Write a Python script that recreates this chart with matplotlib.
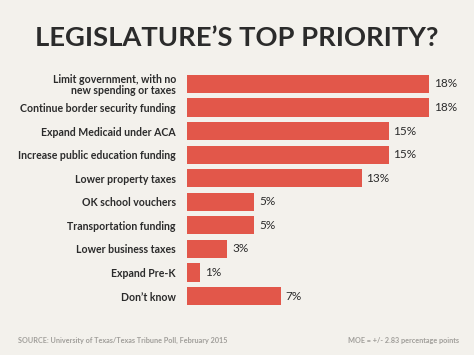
import matplotlib
matplotlib.use("Agg")
import matplotlib.pyplot as plt

# --- Dados ---
categorias = [
    "Limit government, with no\nnew spending or taxes",
    "Continue border security funding",
    "Expand Medicaid under ACA",
    "Increase public education funding",
    "Lower property taxes",
    "OK school vouchers",
    "Transportation funding",
    "Lower business taxes",
    "Expand Pre-K",
    "Don\u2019t know",
]
valores = [18, 18, 15, 15, 13, 5, 5, 3, 1, 7]
rotulos = ["18%", "18%", "15%", "15%", "13%", "5%", "5%", "3%", "1%", "7%"]

fundo = "#f3f1ec"
cor_barra = "#e2574a"
cor_texto = "#2b2b2b"

plt.rcParams["font.family"] = ["Lato", "DejaVu Sans"]

fig = plt.figure(figsize=(4.74, 3.55), dpi=100, facecolor=fundo)
ax = fig.add_axes([187 / 474, 1 - 307.8 / 355, (474 - 187) / 474, (307.8 - 72.2) / 355])
ax.set_facecolor(fundo)

pos = list(range(len(categorias)))
ax.barh(pos, valores, height=0.77, color=cor_barra)
ax.set_xlim(0, (474 - 187) / 13.45)
ax.set_ylim(len(categorias) - 0.5, -0.5)

for y, v, r in zip(pos, valores, rotulos):
    ax.text(v + 0.35, y, r, va="center", ha="left", fontsize=8.5, color=cor_texto)

ax.set_yticks(pos)
ax.set_yticklabels(categorias, fontsize=7.6, fontweight="bold", color=cor_texto,
                   multialignment="right", linespacing=1.0)
ax.tick_params(axis="y", length=0, pad=8)
ax.set_xticks([])
for s in ax.spines.values():
    s.set_visible(False)

fig.text(0.5, 1 - 38 / 355, "LEGISLATURE\u2019S TOP PRIORITY?", ha="center", va="center",
         fontsize=19.7, fontweight="bold", color=cor_texto)
fig.text(18 / 474, 1 - 340 / 355, "SOURCE: University of Texas/Texas Tribune Poll, February 2015",
         ha="left", va="center", fontsize=5.25, fontweight="bold", color="#a09e9a")
fig.text(459 / 474, 1 - 340 / 355, "MOE = +/- 2.83 percentage points",
         ha="right", va="center", fontsize=5.25, fontweight="bold", color="#a09e9a")

fig.savefig("out.png", dpi=100, facecolor=fundo)
